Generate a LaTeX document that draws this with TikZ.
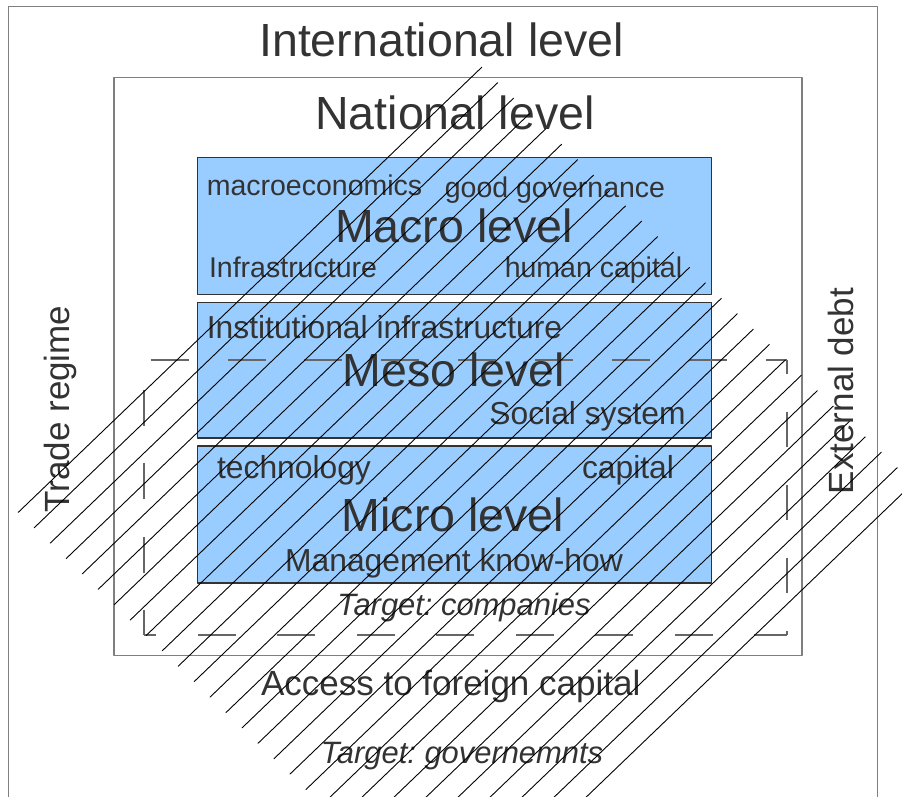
\documentclass[tikz,border=0pt]{standalone}
\usepackage{fontspec}
\setmainfont{Liberation Sans}
\frenchspacing
\definecolor{txtgray}{HTML}{333333}
\definecolor{levelblue}{HTML}{99CCFF}
\definecolor{linegray}{HTML}{7F7F7F}
\begin{document}
\begin{tikzpicture}[line cap=round,line join=round,x=1pt,y=-1pt,
    lbl/.style={text=txtgray,inner sep=0pt,anchor=base},
    biglbl/.style={lbl,font=\fontsize{46.5}{50}\selectfont},
    sidelbl/.style={lbl,font=\fontsize{35}{40}\selectfont},
    macrolbl/.style={lbl,font=\fontsize{28.5}{32}\selectfont},
    boxlbl/.style={lbl,font=\fontsize{31.8}{36}\selectfont},
    targetlbl/.style={lbl,font=\fontsize{30.9}{35}\selectfont\itshape},
    levelbox/.style={draw=black!80,line width=1.1pt,fill=levelblue},
    frameline/.style={draw=linegray,line width=1.3pt},
    dashline/.style={draw=black!60,line width=1.2pt,line cap=butt},
    hatchline/.style={black,line width=0.9pt}]
    \useasboundingbox (0,0) rectangle (902,796);
    \clip (0,0) rectangle (902,796);
    \def\hx{15.98} % step of the hatching
    \def\hy{15.4}
    % international and national frame
    \draw[frameline] (8.5,820) |- (877.7,6.5) -- (877.7,820);
    \draw[frameline] (114,77.3) rectangle (802,655.7);
    % the three levels
    \draw[levelbox] (197.7,157.5) rectangle (711.7,294.2);
    \draw[levelbox] (197.7,302.5) rectangle (711.7,438);
    \draw[levelbox] (197.7,446) rectangle (711.7,583);
    % target: companies
    \draw[dashline,dash pattern=on 38pt off 38.85pt,dash phase=70.15pt] (144,360) -- (787,360);
    \draw[dashline,dash pattern=on 35.5pt off 37.5pt,dash phase=21.5pt] (787,360) -- (787,635);
    \draw[dashline,dash pattern=on 38pt off 41.5pt,dash phase=5pt] (787,635) -- (144,635);
    \draw[dashline,dash pattern=on 36pt off 37.5pt,dash phase=11pt] (144,635) -- (144,360);
    \node[biglbl] (intl) at (441.5,56.5) {International level};
    \node[biglbl] (natl) at (455,129) {National level};
    \node[macrolbl] (macroecon) at (314.5,195.5) {macroeconomics};
    \node[macrolbl] (govern) at (555,197.5) {good governance};
    \node[biglbl] (macro) at (454,242) {Macro level};
    \node[macrolbl] (infra) at (293,277) {Infrastructure};
    \node[macrolbl] (humcap) at (593.5,277) {human capital};
    \node[boxlbl] (instinfra) at (384.5,338.3) {Institutional infrastructure};
    \node[biglbl] (meso) at (454,386) {Meso level};
    \node[boxlbl] (social) at (587.5,424) {Social system};
    \node[boxlbl] (techn) at (294,478.5) {technology};
    \node[boxlbl] (capit) at (628,478.5) {capital};
    \node[biglbl] (micro) at (453,531.7) {Micro level};
    \node[boxlbl] (mgmt) at (454,571.5) {Management know-how};
    \node[targetlbl] (tcomp) at (464,615) {Target: companies};
    \node[sidelbl] (access) at (450.7,695) {Access to foreign capital};
    \node[targetlbl] (tgov) at (462,763.5) {Target: governemnts};
    \node[sidelbl,rotate=90] (trade) at (69,409) {Trade regime};
    \node[sidelbl,rotate=90] (debt) at (853,391) {External debt};
    % hatching over everything
    \foreach \k in {0,...,27}
        \draw[hatchline] ({18.3+\hx*\k},{512.3+\hy*\k}) -- ({481.7+\hx*\k},{67.3+\hy*\k});
\end{tikzpicture}
\end{document}
